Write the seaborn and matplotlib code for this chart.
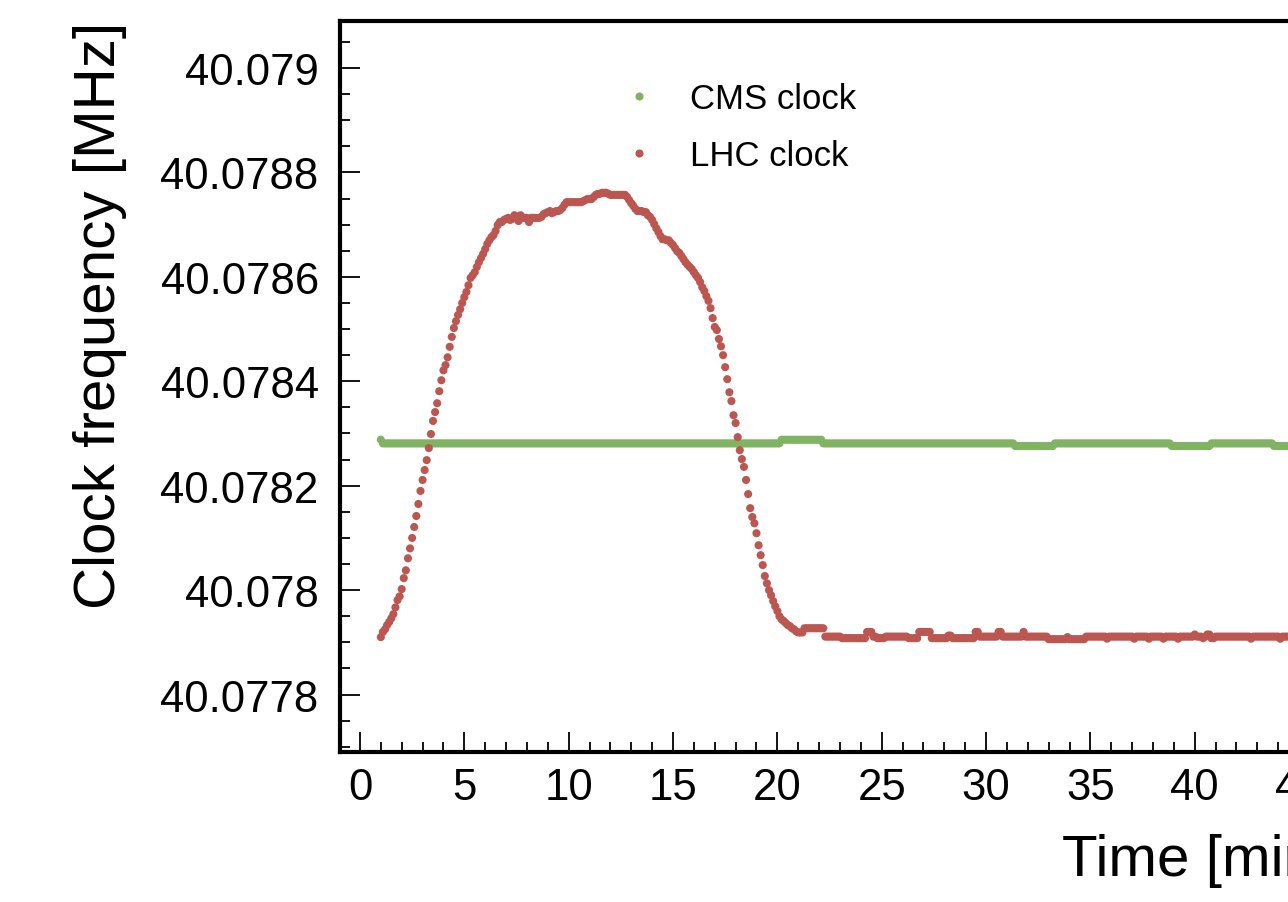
import numpy as np
import pandas as pd
import matplotlib
matplotlib.use("Agg")
import matplotlib.pyplot as plt
import seaborn as sns
from matplotlib.ticker import MultipleLocator, FuncFormatter

# ---------------- data ----------------
BASE_MHZ = 40.078          # frequencies are stored as offsets in Hz from this value
T_START = 1.0              # first sample [min]
T_STEP = 0.1               # sampling interval [min]

series_names = ["CMS clock", "LHC clock"]
series_colors = ["#80b463", "#bb5650"]

# CMS clock: (offset Hz, number of consecutive samples)
cms_runs_hz = [(288, 1), (281, 191), (288, 20), (281, 92), (276, 19),
               (281, 56), (276, 19), (281, 30), (276, 9)]

# LHC clock: individual samples from t = 1.0 to 20.9 min
lhc_head_hz = [
    -90, -80, -75, -67, -61, -54, -46, -33, -19, -12,
    2, 23, 38, 61, 80, 100, 121, 142, 165, 190,
    211, 230, 249, 272, 299, 324, 341, 358, 381, 402,
    421, 431, 446, 466, 485, 502, 515, 527, 538, 550,
    561, 571, 584, 598, 603, 609, 619, 628, 636, 644,
    653, 663, 670, 676, 680, 688, 699, 705, 705, 709,
    711, 713, 709, 711, 718, 715, 707, 718, 713, 713,
    713, 705, 713, 713, 713, 713, 713, 715, 720, 722,
    724, 726, 722, 724, 726, 726, 728, 732, 738, 743,
    743, 743, 743, 743, 743, 743, 743, 745, 747, 749,
    749, 749, 753, 757, 759, 759, 761, 761, 761, 759,
    757, 757, 757, 757, 757, 757, 757, 757, 753, 747,
    741, 736, 730, 726, 726, 726, 724, 724, 718, 715,
    709, 701, 693, 686, 678, 672, 672, 670, 670, 665,
    661, 655, 649, 646, 640, 634, 628, 623, 619, 615,
    609, 603, 598, 590, 580, 573, 563, 554, 540, 521,
    504, 498, 481, 467, 450, 427, 404, 379, 362, 335,
    320, 293, 268, 251, 236, 211, 184, 157, 140, 128,
    109, 86, 67, 48, 27, 13, 0, -10, -21, -31,
    -40, -50, -56, -59, -63, -67, -69, -73, -75, -79,
]
# LHC clock from t = 21.0 min on: (offset Hz, number of consecutive samples)
lhc_tail_runs_hz = [
    (-81, 3), (-73, 10), (-89, 8), (-92, 12), (-80, 3), (-89, 2), (-92, 4),
    (-89, 11), (-92, 5), (-80, 6), (-92, 8), (-87, 2), (-92, 11), (-80, 2),
    (-89, 9), (-80, 2), (-89, 10), (-80, 1), (-89, 11), (-94, 9), (-90, 1),
    (-94, 8), (-89, 10), (-93, 1), (-89, 12), (-93, 1), (-89, 6), (-93, 1),
    (-89, 6), (-93, 1), (-89, 6), (-93, 1), (-89, 7), (-85, 1), (-89, 3),
    (-92, 1), (-89, 1), (-85, 2), (-92, 2), (-89, 17), (-93, 1), (-89, 13),
    (-93, 1), (-89, 5),
]

x_ticks = [0, 5, 10, 15, 20, 25, 30, 35, 40, 45]
y_ticks = [40.0778, 40.0780, 40.0782, 40.0784, 40.0786, 40.0788, 40.0790]
x_label = "Time [min]"
y_label = "Clock frequency [MHz]"


def expand(runs):
    vals, counts = zip(*runs)
    return np.repeat(np.array(vals, dtype=float), counts)


cms_hz = expand(cms_runs_hz)
lhc_hz = np.concatenate([np.array(lhc_head_hz, dtype=float), expand(lhc_tail_runs_hz)])

frames = []
for name, hz in zip(series_names, [cms_hz, lhc_hz]):
    t = T_START + T_STEP * np.arange(len(hz))
    frames.append(pd.DataFrame({"time": t, "freq": BASE_MHZ + hz * 1e-6, "clock": name}))
df = pd.concat(frames, ignore_index=True)

# ---------------- style ----------------
sns.set_theme(style="ticks")
plt.rcParams["font.family"] = ["Liberation Sans", "DejaVu Sans"]
plt.rcParams.update({"text.color": "black", "axes.labelcolor": "black",
                     "xtick.color": "black", "ytick.color": "black",
                     "axes.edgecolor": "black"})

fig = plt.figure(figsize=(12.88, 9.03), dpi=100)
ax = fig.add_axes([339.5 / 1288, 150 / 903, 993 / 1288, 731 / 903])

sns.scatterplot(data=df, x="time", y="freq", hue="clock", hue_order=series_names,
                palette=series_colors, s=34, linewidth=0, ax=ax, legend=True)

ax.set_xlim(-0.98, 46.6)
ax.set_ylim(40.07769, 40.07909)

ax.set_xticks(x_ticks)
ax.xaxis.set_minor_locator(MultipleLocator(1))
ax.set_yticks(y_ticks)
ax.yaxis.set_minor_locator(MultipleLocator(0.00005))
ax.yaxis.set_major_formatter(FuncFormatter(lambda v, p: f"{v:.4f}".rstrip("0")))

for sp in ax.spines.values():
    sp.set_linewidth(3.0)
    sp.set_color("black")

ax.tick_params(which="both", direction="in", top=False, right=False,
               color="black", width=1.3, labelcolor="black")
ax.tick_params(which="major", length=14.4, labelsize=31.5)
ax.tick_params(axis="y", which="major", pad=15)
ax.tick_params(axis="x", which="major", pad=11)
ax.tick_params(which="minor", length=7.2)

ax.set_xlabel(x_label, fontsize=42, loc="right", labelpad=18, color="black")
ax.set_ylabel(y_label, fontsize=42, loc="top", labelpad=24, color="black")

leg = ax.legend(loc="upper left", bbox_to_anchor=(0.284, 0.917), frameon=False,
                fontsize=25, markerscale=1.0, handlelength=1.0,
                handletextpad=0.96, labelspacing=0.71, borderpad=0,
                borderaxespad=0)

fig.savefig("out.png", dpi=100)
